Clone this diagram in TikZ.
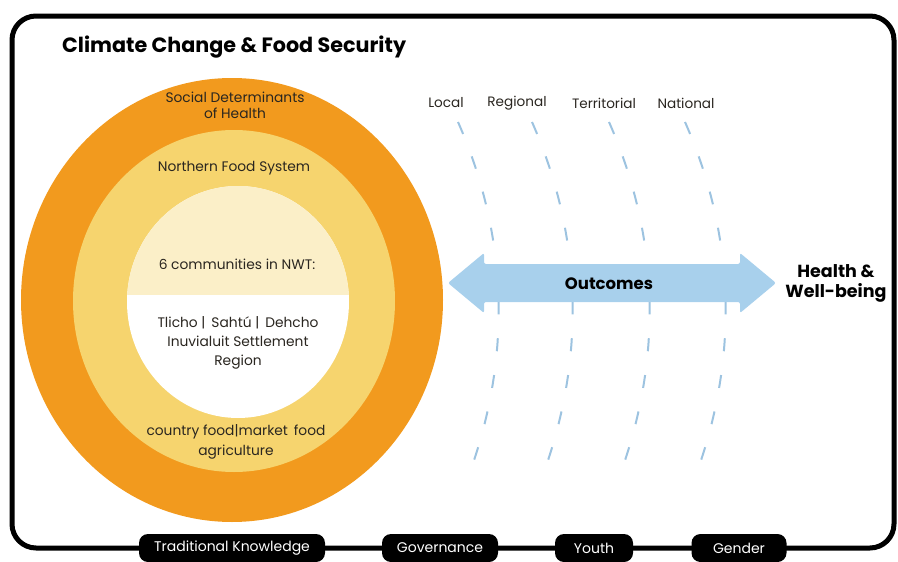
\documentclass[tikz,border=0pt]{standalone}
\usepackage{fontspec}
\setmainfont{Poppins}
\newfontfamily\bodyfont{Poppins}
\newfontfamily\boldfont{Poppins}[UprightFont=* Bold]
\definecolor{outerorange}{HTML}{F29A1E}
\definecolor{midyellow}{HTML}{F6D46E}
\definecolor{innercream}{HTML}{FBEFC8}
\definecolor{arrowblue}{HTML}{A8D0EC}
\definecolor{dashblue}{HTML}{9DC3E0}
\definecolor{txt}{HTML}{2A2620}
\tikzset{
  ringtext/.style={text=txt, font=\bodyfont\fontsize{13.8}{16}\selectfont, align=center, inner sep=0pt},
  leveltext/.style={text=txt, font=\bodyfont\fontsize{13.6}{15}\selectfont, inner sep=0pt},
  levelcurve/.style={draw=dashblue, line width=2pt, dash pattern=on 13pt off 24pt},
  pill/.style={fill=black, rounded corners=9pt, text=white, font=\bodyfont\fontsize{14}{16}\selectfont, minimum height=28pt, inner sep=0pt},
  frame/.style={draw=black, line width=5pt, rounded corners=24pt}
}
\begin{document}
\begin{tikzpicture}[x=1pt,y=-1pt]
\useasboundingbox (0,0) rectangle (898,562);
% frame
\draw[frame] (12,16) rectangle (894,548);
% title
\node[anchor=west, inner sep=0pt, font=\boldfont\fontsize{20.7}{23}\selectfont] (title) at (62,47) {Climate Change \& Food Security};
% rings
\fill[outerorange] (232,300) ellipse [x radius=211, y radius=222];
\fill[midyellow] (234,301) ellipse [x radius=161, y radius=171];
\fill[white] (238,302) ellipse [x radius=111, y radius=116];
\begin{scope}
\clip (238,302) ellipse [x radius=111, y radius=116];
\fill[innercream] (100,150) rectangle (380,295);
\end{scope}
\node[ringtext] (sdh) at (235,105) {Social Determinants\\of Health};
\node[ringtext] (nfs) at (234,168) {Northern Food System};
\node[ringtext, font=\bodyfont\fontsize{13.8}{19}\selectfont] (six) at (237,264) {6 communities in NWT:};
\node[ringtext, font=\bodyfont\fontsize{13.8}{19}\selectfont] (regions) at (238,343) {Tlicho |\, Sahtú |\, Dehcho\\Inuvialuit Settlement\\Region};
\node[ringtext, font=\bodyfont\fontsize{13.8}{20}\selectfont] (food) at (236,442) {country food|market\, food\\agriculture};
% level labels
\node[leveltext] (local) at (446,103) {Local};
\node[leveltext] (regional) at (517,103) {Regional};
\node[leveltext] (territorial) at (604,103) {Territorial};
\node[leveltext] (national) at (686,103) {National};
% dashed level curves
\foreach \dx in {0,74,151,227}{
  \draw[levelcurve] (458+\dx,122) .. controls (510+\dx,240) and (510+\dx,360) .. (470+\dx,472);
}
% outcomes arrow
\fill[arrowblue, rounded corners=2pt] (448,283) -- (484,253) -- (484,264) -- (740,264) -- (740,253) -- (776,283) -- (740,313) -- (740,302) -- (484,302) -- (484,313) -- cycle;
\node[inner sep=0pt, font=\boldfont\fontsize{16.5}{19}\selectfont, text=black] (outcomes) at (609,284) {Outcomes};
\node[inner sep=0pt, align=center, font=\boldfont\fontsize{17.5}{20}\selectfont, text=black] (health) at (836,283) {Health \&\\Well-being};
% pills
\node[pill, minimum width=186pt] (tk) at (232,548) {Traditional Knowledge};
\node[pill, minimum width=116pt] (gov) at (440,548) {Governance};
\node[pill, minimum width=78pt] (youth) at (594,548) {Youth};
\node[pill, minimum width=95pt] (gender) at (739,548) {Gender};
\end{tikzpicture}
\end{document}
